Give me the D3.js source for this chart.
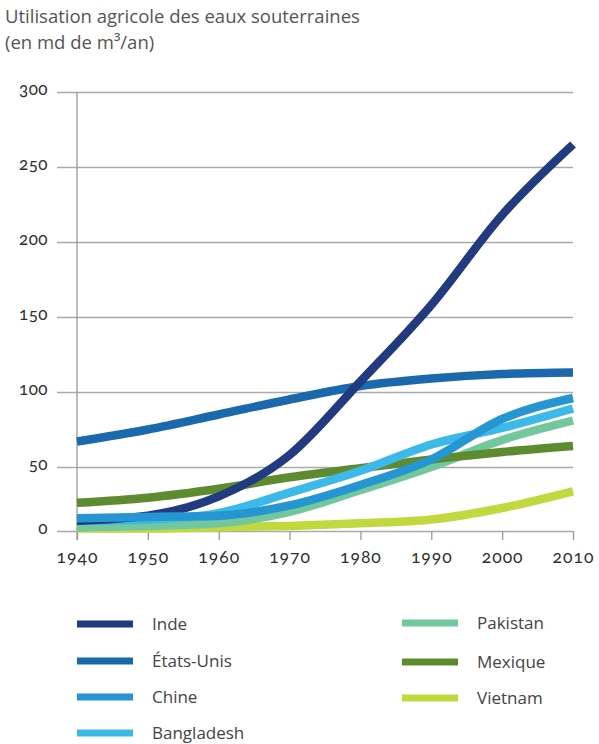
<!DOCTYPE html>
<html>
<head>
<meta charset="utf-8">
<script src="https://cdn.jsdelivr.net/npm/d3@7"></script>
<style>
  body { margin: 0; background: #fff; }
  svg { font-family: "Open Sans", sans-serif; }
  .tick text { font-family: Lato, sans-serif; font-variant-numeric: oldstyle-nums; fill: #2e2e2e; }
</style>
</head>
<body>
<div id="chart"></div>
<script>
const years = [1940, 1950, 1960, 1970, 1980, 1990, 2000, 2010];
const yTicks = [0, 50, 100, 150, 200, 250, 300];

const inde       = [8, 12, 27, 58, 107, 158, 218, 265];
const etatsUnis  = [67, 75, 85, 95, 104, 109, 112, 113];
const chine      = [10, 11, 12, 20, 36, 55, 82, 96];
const bangladesh = [8, 9, 14, 30, 47, 65, 76, 89];
const pakistan   = [3, 4, 6, 15, 32, 50, 68, 81];
const mexique    = [22, 26, 33, 42, 49, 55, 60, 64];
const vietnam    = [2, 2, 3, 4, 6, 9, 18, 31];

const names  = ['Inde', 'États-Unis', 'Chine', 'Bangladesh', 'Pakistan', 'Mexique', 'Vietnam'];
const colors = ['#213a80', '#1b69ad', '#2596d1', '#3cb9e8', '#72c89c', '#5f8b30', '#c2d83f'];
const values = [inde, etatsUnis, chine, bangladesh, pakistan, mexique, vietnam];
// drawing order (last on top)
const order = [6, 4, 5, 1, 3, 0, 2];

const w = 599, h = 744;
const svg = d3.select('#chart').append('svg').attr('width', w).attr('height', h);

svg.append('text').attr('x', 5).attr('y', 23)
    .attr('font-size', 18.5).attr('fill', '#555')
    .text('Utilisation agricole des eaux souterraines');
svg.append('text').attr('x', 5).attr('y', 49)
    .attr('font-size', 18.5).attr('fill', '#555')
    .text('(en md de m³/an)');

const x = d3.scaleLinear().domain([1940, 2010]).range([77, 573]);
const y = d3.scaleLinear().domain([0, 50, 300]).range([531, 467, 92]);

const yAxis = svg.append('g')
    .attr('transform', 'translate(573,0)')
    .call(d3.axisLeft(y).tickValues(yTicks).tickSize(573 - 57).tickPadding(9));
yAxis.select('.domain').remove();
yAxis.selectAll('.tick line').attr('stroke', '#aaa').attr('stroke-width', 1.3);
yAxis.selectAll('.tick text').attr('font-size', 17).attr('letter-spacing', 0.5).attr('dy', '0.15em');

svg.append('line')
    .attr('x1', x(1940)).attr('x2', x(1940))
    .attr('y1', y(300)).attr('y2', y(0) + 9)
    .attr('stroke', '#999').attr('stroke-width', 1.3);

const xAxis = svg.append('g')
    .attr('transform', 'translate(0,' + y(0) + ')')
    .call(d3.axisBottom(x).tickValues(years).tickFormat(d3.format('')).tickSize(9).tickPadding(11));
xAxis.select('.domain').remove();
xAxis.selectAll('.tick line').attr('stroke', '#999').attr('stroke-width', 1.3);
xAxis.selectAll('.tick text').attr('font-size', 17.5).attr('letter-spacing', 1);

const line = d3.line()
    .x((d, i) => x(years[i]))
    .y(d => y(d))
    .curve(d3.curveMonotoneX);

svg.append('g').selectAll('path')
    .data(order)
    .enter()
    .append('path')
    .attr('d', i => line(values[i]))
    .attr('fill', 'none')
    .attr('stroke', i => colors[i])
    .attr('stroke-width', 8.5);

// legend
const legendPos = [
    [77, 624], [77, 661], [77, 697], [77, 733],
    [402, 623], [402, 662], [402, 698]
];
const legend = svg.append('g').selectAll('g')
    .data(names)
    .enter()
    .append('g')
    .attr('transform', (d, i) => 'translate(' + legendPos[i][0] + ',' + legendPos[i][1] + ')');
legend.append('line')
    .attr('x1', 0).attr('x2', 56)
    .attr('stroke', (d, i) => colors[i])
    .attr('stroke-width', 7);
legend.append('text')
    .attr('x', 75).attr('dy', '0.35em')
    .attr('font-size', 17).attr('fill', '#444')
    .text(d => d);
</script>
</body>
</html>
